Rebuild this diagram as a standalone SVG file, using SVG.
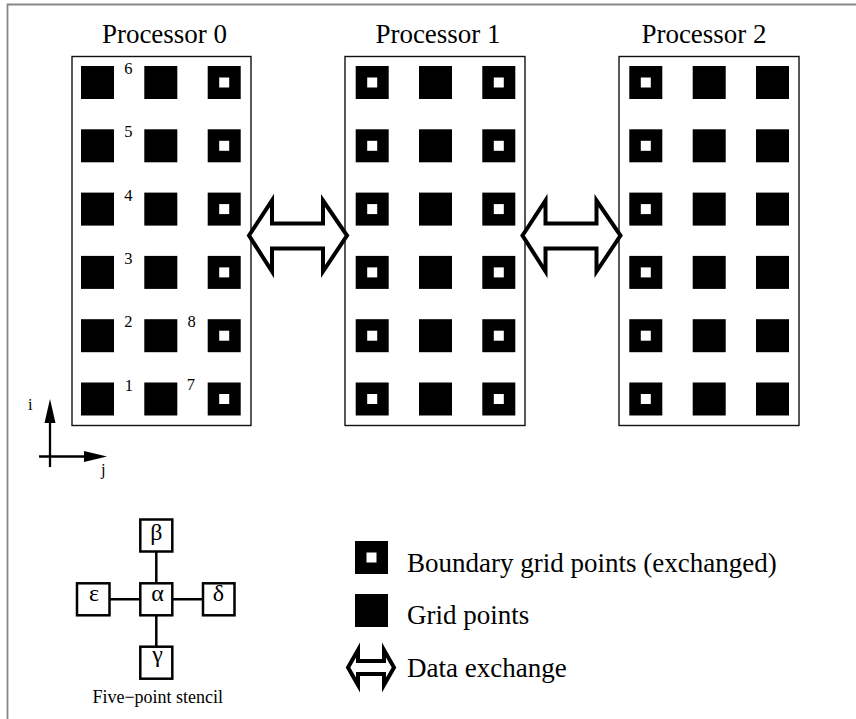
<svg xmlns="http://www.w3.org/2000/svg" xmlns:xlink="http://www.w3.org/1999/xlink" width="856" height="719" viewBox="0 0 856 719">
<style>
  text { font-family: 'Liberation Serif', 'Times New Roman', Times, 'DejaVu Serif', serif; fill: #000; }
  .title { font-size: 27px; text-anchor: middle; }
  .num { font-size: 16.5px; }
  .greek { font-size: 24px; text-anchor: middle; }
  .legend { font-size: 27px; }
  .proc { fill: #fff; stroke: #111; stroke-width: 1.4; }
  .xarrow { fill: #fff; stroke: #000; stroke-width: 4; stroke-linejoin: miter; }
  .sbox { fill: #fff; stroke: #000; stroke-width: 2.5; }
  .sline { stroke: #000; stroke-width: 2.5; fill: none; }
  .axis { stroke: #000; stroke-width: 2.3; fill: none; }
  .frame { stroke: #888; stroke-width: 1.8; fill: none; }
</style>
<defs>
  <g id="gp"><rect x="0" y="0" width="33" height="33" fill="#000"/></g>
  <g id="bp"><rect x="0" y="0" width="33" height="33" fill="#000"/><rect x="11.5" y="11.5" width="10" height="10" fill="#fff"/></g>
  <polygon id="dx" points="0,0 23,-35 23,-12 74,-12 74,-35 98,0 74,36 74,13 23,13 23,36"/>
</defs>
<rect width="856" height="719" fill="#fff"/>
<path class="frame" d="M7.5,719 V4.5 H856"/>

<g id="processor0">
  <rect class="proc" x="72" y="56.5" width="179" height="369"/>
  <text class="title" x="164.5" y="43">Processor 0</text>
  <use xlink:href="#gp" x="81" y="66"/><use xlink:href="#gp" x="144.3" y="66"/><use xlink:href="#bp" x="207.7" y="66"/>
  <use xlink:href="#gp" x="81" y="129.3"/><use xlink:href="#gp" x="144.3" y="129.3"/><use xlink:href="#bp" x="207.7" y="129.3"/>
  <use xlink:href="#gp" x="81" y="192.6"/><use xlink:href="#gp" x="144.3" y="192.6"/><use xlink:href="#bp" x="207.7" y="192.6"/>
  <use xlink:href="#gp" x="81" y="255.9"/><use xlink:href="#gp" x="144.3" y="255.9"/><use xlink:href="#bp" x="207.7" y="255.9"/>
  <use xlink:href="#gp" x="81" y="319.2"/><use xlink:href="#gp" x="144.3" y="319.2"/><use xlink:href="#bp" x="207.7" y="319.2"/>
  <use xlink:href="#gp" x="81" y="382.5"/><use xlink:href="#gp" x="144.3" y="382.5"/><use xlink:href="#bp" x="207.7" y="382.5"/>
  <text class="num" x="124.3" y="74">6</text>
  <text class="num" x="124.3" y="137.3">5</text>
  <text class="num" x="124.3" y="200.6">4</text>
  <text class="num" x="124.3" y="263.9">3</text>
  <text class="num" x="124.3" y="327.2">2</text>
  <text class="num" x="124.8" y="390.5">1</text>
  <text class="num" x="187.5" y="327.2">8</text>
  <text class="num" x="186.7" y="390">7</text>
</g>

<g id="processor1">
  <rect class="proc" x="345" y="56.5" width="180" height="369"/>
  <text class="title" x="438" y="43">Processor 1</text>
  <use xlink:href="#bp" x="355.7" y="66"/><use xlink:href="#gp" x="419" y="66"/><use xlink:href="#bp" x="482.3" y="66"/>
  <use xlink:href="#bp" x="355.7" y="129.3"/><use xlink:href="#gp" x="419" y="129.3"/><use xlink:href="#bp" x="482.3" y="129.3"/>
  <use xlink:href="#bp" x="355.7" y="192.6"/><use xlink:href="#gp" x="419" y="192.6"/><use xlink:href="#bp" x="482.3" y="192.6"/>
  <use xlink:href="#bp" x="355.7" y="255.9"/><use xlink:href="#gp" x="419" y="255.9"/><use xlink:href="#bp" x="482.3" y="255.9"/>
  <use xlink:href="#bp" x="355.7" y="319.2"/><use xlink:href="#gp" x="419" y="319.2"/><use xlink:href="#bp" x="482.3" y="319.2"/>
  <use xlink:href="#bp" x="355.7" y="382.5"/><use xlink:href="#gp" x="419" y="382.5"/><use xlink:href="#bp" x="482.3" y="382.5"/>
</g>

<g id="processor2">
  <rect class="proc" x="619" y="56.5" width="180" height="369"/>
  <text class="title" x="704" y="43">Processor 2</text>
  <use xlink:href="#bp" x="629.3" y="66"/><use xlink:href="#gp" x="692.7" y="66"/><use xlink:href="#gp" x="756" y="66"/>
  <use xlink:href="#bp" x="629.3" y="129.3"/><use xlink:href="#gp" x="692.7" y="129.3"/><use xlink:href="#gp" x="756" y="129.3"/>
  <use xlink:href="#bp" x="629.3" y="192.6"/><use xlink:href="#gp" x="692.7" y="192.6"/><use xlink:href="#gp" x="756" y="192.6"/>
  <use xlink:href="#bp" x="629.3" y="255.9"/><use xlink:href="#gp" x="692.7" y="255.9"/><use xlink:href="#gp" x="756" y="255.9"/>
  <use xlink:href="#bp" x="629.3" y="319.2"/><use xlink:href="#gp" x="692.7" y="319.2"/><use xlink:href="#gp" x="756" y="319.2"/>
  <use xlink:href="#bp" x="629.3" y="382.5"/><use xlink:href="#gp" x="692.7" y="382.5"/><use xlink:href="#gp" x="756" y="382.5"/>
</g>

<g id="connectors">
  <use xlink:href="#dx" class="xarrow" x="249" y="235.5"/>
  <use xlink:href="#dx" class="xarrow" x="522.5" y="235.5"/>
</g>

<g id="axes">
  <line class="axis" x1="50" y1="467" x2="50" y2="420"/>
  <polygon points="50,399 44.5,423 55.5,423" fill="#000"/>
  <line class="axis" x1="39" y1="456.5" x2="88" y2="456.5"/>
  <polygon points="107,456.5 84,451 84,462" fill="#000"/>
  <text class="num" x="28" y="410">i</text>
  <text class="num" x="101" y="475">j</text>
</g>

<g id="stencil">
  <line class="sline" x1="156.3" y1="551.7" x2="156.3" y2="646.7"/>
  <line class="sline" x1="110" y1="599.3" x2="202.7" y2="599.3"/>
  <g id="stencil-beta"><rect class="sbox" x="140.3" y="519.5" width="32" height="32"/><text class="greek" x="156.3" y="540">β</text></g>
  <g id="stencil-epsilon"><rect class="sbox" x="77" y="583.3" width="32.5" height="32"/><text class="greek" x="94" y="601">ε</text></g>
  <g id="stencil-alpha"><rect class="sbox" x="140.3" y="583.3" width="32" height="32"/><text class="greek" x="157.5" y="601">α</text></g>
  <g id="stencil-delta"><rect class="sbox" x="203" y="583.3" width="31.5" height="32"/><text class="greek" x="218.5" y="601">δ</text></g>
  <g id="stencil-gamma"><rect class="sbox" x="140.3" y="646.7" width="32" height="32"/><text class="greek" x="157.5" y="662">γ</text></g>
  <text x="157.7" y="703.3" font-size="18" text-anchor="middle">Five−point stencil</text>
</g>

<g id="legend">
  <use xlink:href="#bp" x="355" y="541"/>
  <text class="legend" x="407" y="571.7">Boundary grid points (exchanged)</text>
  <use xlink:href="#gp" x="355" y="594"/>
  <text class="legend" x="407" y="624">Grid points</text>
  <polygon class="xarrow" points="348,667.5 358,650 358,661 384,661 384,650 394,667.5 384,685 384,674 358,674 358,685" stroke-width="3.5"/>
  <text class="legend" x="407" y="676.7">Data exchange</text>
</g>
</svg>
